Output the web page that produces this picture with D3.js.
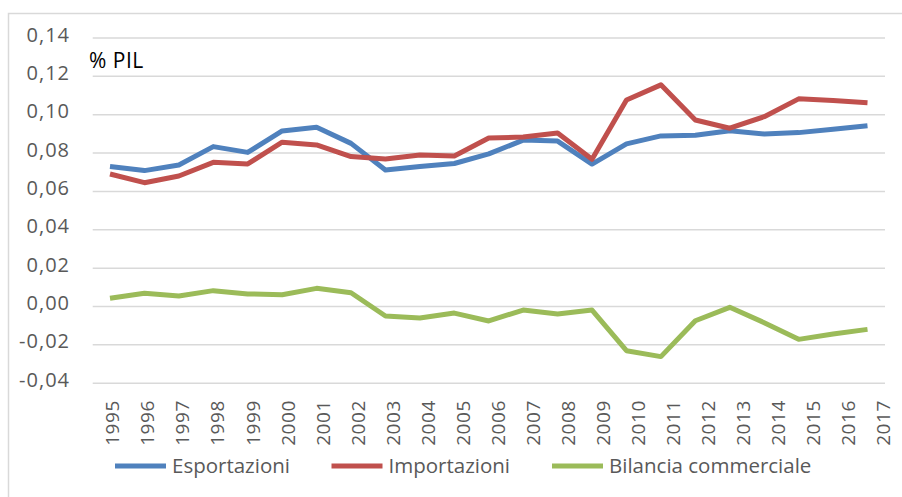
<!DOCTYPE html>
<html>
<head>
<meta charset="utf-8">
<script src="https://cdn.jsdelivr.net/npm/d3@7"></script>
<style>
  body { margin: 0; background: #fff; }
  svg { display: block; font-family: "Open Sans", sans-serif; }
</style>
</head>
<body>
<script>
// chart data
var years = ["1995", "1996", "1997", "1998", "1999", "2000", "2001", "2002", "2003", "2004", "2005",
  "2006", "2007", "2008", "2009", "2010", "2011", "2012", "2013", "2014", "2015", "2016", "2017"];

var esportazioni = [0.0727, 0.0706, 0.0735, 0.0831, 0.0801, 0.0913, 0.0932, 0.0848, 0.0709, 0.0727, 0.0743,
  0.0793, 0.0865, 0.0860, 0.0740, 0.0845, 0.0887, 0.0890, 0.0914, 0.0897, 0.0904, 0.0921, 0.0940];

var importazioni = [0.0688, 0.0643, 0.0678, 0.0749, 0.0741, 0.0854, 0.0840, 0.0779, 0.0767, 0.0787, 0.0782,
  0.0876, 0.0881, 0.0902, 0.0765, 0.1074, 0.1153, 0.0970, 0.0927, 0.0987, 0.1080, 0.1071, 0.1060];

var bilancia = [0.0040, 0.0066, 0.0052, 0.0080, 0.0063, 0.0059, 0.0092, 0.0069, -0.0052, -0.0063, -0.0037,
  -0.0078, -0.0021, -0.0042, -0.0021, -0.0233, -0.0264, -0.0077, -0.0007, -0.0087, -0.0174, -0.0146, -0.0122];

var yTicks = [-0.04, -0.02, 0, 0.02, 0.04, 0.06, 0.08, 0.10, 0.12, 0.14];

var seriesNames = ["Esportazioni", "Importazioni", "Bilancia commerciale"];
var seriesColors = ["#4F81BD", "#C0504D", "#9BBB59"];

// SVG area
var svgWidth = 902;
var svgHeight = 497;

var plot = { left: 92.7, right: 885, top: 37.5, bottom: 382.7 };

var svg = d3.select("body")
  .append("svg")
  .attr("width", svgWidth)
  .attr("height", svgHeight);

// outer chart frame (runs off the right and bottom edge)
svg.append("rect")
  .attr("x", 8.5)
  .attr("y", 13.5)
  .attr("width", 1000)
  .attr("height", 1000)
  .attr("fill", "none")
  .attr("stroke", "#D9D9D9")
  .attr("stroke-width", 1.5);

// scales
var xScale = d3.scalePoint()
  .domain(years)
  .range([110, 867.5]);

// excel spreads the rotated labels a little wider than the points
var xLabelScale = d3.scalePoint()
  .domain(years)
  .range([112, 883]);

var yScale = d3.scaleLinear()
  .domain([-0.04, 0.14])
  .range([plot.bottom, plot.top]);

var itLocale = d3.formatLocale({ decimal: ",", thousands: ".", grouping: [3], currency: ["", " €"], minus: "-" });
var fmt = itLocale.format(".2f");

// gridlines
svg.append("g")
  .attr("class", "grid")
  .attr("transform", `translate(${plot.left}, 0)`)
  .call(d3.axisLeft(yScale).tickValues(yTicks).tickSize(-(plot.right - plot.left)).tickFormat(""))
  .call(g => g.select(".domain").remove())
  .call(g => g.selectAll("line").attr("stroke", "#D9D9D9").attr("stroke-width", 1.5));

// y labels
svg.append("g")
  .attr("transform", "translate(70, 0)")
  .call(d3.axisLeft(yScale).tickValues(yTicks).tickSize(0).tickPadding(0).tickFormat(fmt))
  .call(g => g.select(".domain").remove())
  .call(g => g.selectAll("text")
    .attr("dy", "0.18em")
    .attr("fill", "#595959")
    .style("font-size", "20px")
    .style("letter-spacing", "1px")
    .style("font-family", "'Open Sans', sans-serif"));

// x labels, rotated
svg.append("g")
  .attr("transform", "translate(0, 398)")
  .call(d3.axisBottom(xLabelScale).tickSize(0).tickPadding(0))
  .call(g => g.select(".domain").remove())
  .call(g => g.selectAll("text")
    .attr("transform", "rotate(-90)")
    .attr("text-anchor", "end")
    .attr("x", -2)
    .attr("y", 0)
    .attr("dy", "0.36em")
    .attr("fill", "#595959")
    .style("font-size", "19px")
    .style("letter-spacing", "0.6px")
    .style("font-family", "'Open Sans', sans-serif"));

// axis title
svg.append("text")
  .attr("x", 89)
  .attr("y", 68)
  .attr("fill", "#000")
  .style("font-size", "21px")
  .style("letter-spacing", "0.5px")
  .text("% PIL");

// lines
var line = d3.line()
  .x((d, i) => xScale(years[i]))
  .y(d => yScale(d));

[esportazioni, importazioni, bilancia].forEach(function(values, k) {
  svg.append("path")
    .datum(values)
    .attr("fill", "none")
    .attr("stroke", seriesColors[k])
    .attr("stroke-width", 5)
    .attr("stroke-linejoin", "round")
    .attr("stroke-linecap", "butt")
    .attr("d", line);
});

// legend
var legendX = [115, 331.5, 552];
var legend = svg.append("g");

seriesNames.forEach(function(name, k) {
  legend.append("line")
    .attr("x1", legendX[k])
    .attr("x2", legendX[k] + 51)
    .attr("y1", 466)
    .attr("y2", 466)
    .attr("stroke", seriesColors[k])
    .attr("stroke-width", 5);

  legend.append("text")
    .attr("x", legendX[k] + 57)
    .attr("y", 466)
    .attr("dy", "0.35em")
    .attr("fill", "#595959")
    .style("font-size", "20.5px")
    .text(name);
});
</script>
</body>
</html>
